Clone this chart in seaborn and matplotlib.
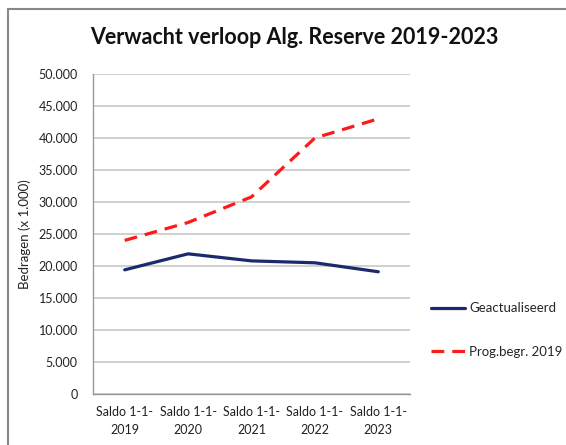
import pandas as pd
import seaborn as sns
import matplotlib.pyplot as plt
from matplotlib.lines import Line2D

categories = ["Saldo 1-1-\n2019", "Saldo 1-1-\n2020", "Saldo 1-1-\n2021", "Saldo 1-1-\n2022", "Saldo 1-1-\n2023"]
geactualiseerd = [19400, 21900, 20800, 20500, 19100]
progbegr = [24000, 26800, 30800, 40000, 43000]
series_names = ["Geactualiseerd", "Prog.begr. 2019"]

rows = []
for i, c in enumerate(categories):
    rows.append({"x": i, "waarde": geactualiseerd[i], "reeks": series_names[0]})
    rows.append({"x": i, "waarde": progbegr[i], "reeks": series_names[1]})
df = pd.DataFrame(rows)

sns.set_style("white")
plt.rcParams['font.family'] = ['Lato', 'DejaVu Sans']

fig = plt.figure(figsize=(5.66, 4.45), dpi=100)
ax = fig.add_axes([93/566, 1-394/445, 317/566, 320/445])

sns.lineplot(data=df, x="x", y="waarde", hue="reeks", style="reeks",
             palette={series_names[0]: "#1a2a6c", series_names[1]: "#ff1a1a"},
             dashes={series_names[0]: "", series_names[1]: (4, 2.5)},
             linewidth=2.3, ax=ax, legend=False)

ax.set_xlim(-0.5, len(categories) - 0.5)
ax.set_ylim(0, 50000)
ax.set_yticks(range(0, 50001, 5000))
ax.set_yticklabels([f"{v:,}".replace(",", ".") for v in range(0, 50001, 5000)], fontsize=9, color="#222222")
ax.set_xticks(range(len(categories)))
ax.set_xticklabels(categories, fontsize=9, color="#222222", linespacing=1.5)
ax.set_xticks([i - 0.5 for i in range(len(categories) + 1)], minor=True)
ax.tick_params(axis="x", which="major", length=0, pad=9)
ax.tick_params(axis="x", which="minor", length=5, color="#999999", direction="out")
ax.tick_params(axis="y", length=5, color="#999999", direction="out", pad=6)
ax.yaxis.grid(True, color="#c8c8c8", linewidth=1.2)
ax.set_axisbelow(True)
ax.set_xlabel("")
ax.set_ylabel("Bedragen (x 1.000)", fontsize=9.5, color="#222222")
ax.yaxis.set_label_coords(-0.195, 0.5)
for s in ["top", "right"]:
    ax.spines[s].set_visible(False)
for s in ["left", "bottom"]:
    ax.spines[s].set_color("#999999")
    ax.spines[s].set_linewidth(1)

fig.text(0.52, 1-38/445, "Verwacht verloop Alg. Reserve 2019-2023", ha="center", va="center",
         fontsize=15.5, fontweight="bold", color="#111111")

# legend
handles = [Line2D([], [], color="#1a2a6c", linewidth=2.3),
           Line2D([], [], color="#ff1a1a", linewidth=2.3, linestyle=(0, (4, 2.5)))]
fig.legend(handles, series_names, loc="center left", bbox_to_anchor=(428/566, 1-330/445),
           frameon=False, fontsize=9.5, handlelength=2.6, handletextpad=0.3, labelspacing=2.4,
           borderaxespad=0, borderpad=0.2)

# chart border
fig.add_artist(Line2D([8/566, 1], [1-9/445, 1-9/445], color="#888888", linewidth=1.5, transform=fig.transFigure))
fig.add_artist(Line2D([8/566, 8/566], [0, 1-9/445], color="#888888", linewidth=1.5, transform=fig.transFigure))

plt.savefig("out.png", dpi=100)
plt.close()
